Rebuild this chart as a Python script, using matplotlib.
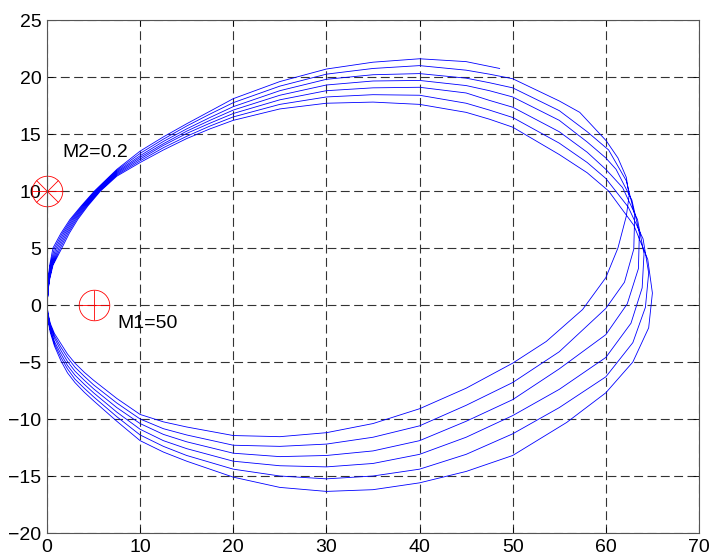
import matplotlib.pyplot as plt

# orbit, one list of (x, y) per arc
# upper arcs run left -> right, lower arcs run right -> left
top1 = [(0.02, 0.0), (0.10, 1.2), (0.30, 2.3), (0.65, 3.5), (1.60, 5.0), (2.40, 6.3), (3.30, 7.5),
        (4.40, 8.7), (5.75, 10.0), (7.5, 11.30), (10, 12.50), (12.5, 13.60), (15, 14.60), (17.5, 15.45),
        (20, 16.20), (25, 17.20), (30, 17.70), (35, 17.80), (40, 17.60), (45, 16.90), (47.5, 16.30),
        (50, 15.60), (55, 13.20), (58, 11.60), (60.3, 10.0), (63.0, 7.0), (64.5, 4.0), (65.0, 1.05)]
top2 = [(0.02, 0.0), (0.10, 1.2), (0.27, 2.3), (0.59, 3.5), (1.44, 5.0), (2.25, 6.3), (3.16, 7.5),
        (4.28, 8.7), (5.64, 10.0), (7.5, 11.40), (10, 12.65), (12.5, 13.80), (15, 14.80), (17.5, 15.70),
        (20, 16.50), (25, 17.60), (30, 18.25), (35, 18.45), (40, 18.40), (45, 17.70), (47.5, 17.10),
        (50, 16.45), (55, 14.20), (58, 12.50), (60.0, 11.1), (62.4, 8.6), (64.0, 5.8), (64.6, 2.8)]
top3 = [(0.02, 0.0), (0.10, 1.2), (0.24, 2.3), (0.53, 3.5), (1.28, 5.0), (2.10, 6.3), (3.02, 7.5),
        (4.16, 8.7), (5.53, 10.0), (7.5, 11.50), (10, 12.80), (12.5, 14.00), (15, 15.05), (17.5, 15.95),
        (20, 16.80), (25, 18.00), (30, 18.80), (35, 19.05), (40, 19.10), (45, 18.60), (47.5, 17.95),
        (50, 17.35), (55, 15.20), (58, 13.40), (60.0, 11.9), (61.8, 10.3), (63.4, 7.5), (64.1, 4.5)]
top4 = [(0.02, 0.0), (0.10, 1.2), (0.21, 2.3), (0.47, 3.5), (1.12, 5.0), (1.95, 6.3), (2.88, 7.5),
        (4.04, 8.7), (5.42, 10.0), (7.5, 11.60), (10, 12.95), (12.5, 14.15), (15, 15.25), (17.5, 16.20),
        (20, 17.10), (25, 18.40), (30, 19.30), (35, 19.65), (40, 19.70), (45, 19.25), (47.5, 18.80),
        (50, 18.25), (55, 16.20), (58, 14.30), (60.0, 12.9), (61.1, 11.9), (62.8, 9.2), (63.6, 6.3)]
top5 = [(0.02, 0.0), (0.10, 1.2), (0.18, 2.3), (0.41, 3.5), (0.96, 5.0), (1.80, 6.3), (2.74, 7.5),
        (3.92, 8.7), (5.31, 10.0), (7.5, 11.70), (10, 13.10), (12.5, 14.35), (15, 15.45), (17.5, 16.45),
        (20, 17.40), (25, 18.80), (30, 19.80), (35, 20.20), (40, 20.30), (45, 19.90), (47.5, 19.50),
        (50, 19.05), (55, 17.05), (58, 15.20), (60.3, 13.6), (62.2, 10.9), (63.1, 7.9)]
top6 = [(0.02, 0.0), (0.10, 1.2), (0.15, 2.3), (0.35, 3.5), (0.80, 5.0), (1.65, 6.3), (2.60, 7.5),
        (3.80, 8.7), (5.20, 10.0), (7.5, 11.80), (10, 13.30), (12.5, 14.55), (15, 15.70), (17.5, 16.75),
        (20, 17.75), (25, 19.20), (30, 20.25), (35, 20.75), (40, 21.00), (45, 20.60), (47.5, 20.25),
        (50, 19.85), (55, 17.90), (57.2, 16.9), (60.05, 14.4), (61.3, 12.9), (62.2, 11.2), (62.5, 9.6)]
top7 = [(0.02, 0.0), (0.10, 1.2), (0.12, 2.3), (0.29, 3.5), (0.64, 5.0), (1.50, 6.3), (2.46, 7.5),
        (3.68, 8.7), (5.09, 10.0), (7.5, 11.90), (10, 13.50), (12.5, 14.75), (15, 15.90), (17.5, 17.00),
        (20, 18.10), (25, 19.60), (30, 20.70), (35, 21.30), (40, 21.60), (45, 21.35), (48.6, 20.75)]

bot1 = [(65.0, 1.05), (64.6, -2.0), (62.9, -5.0), (60.0, -7.7), (55.8, -10.3), (50, -13.2), (45, -14.6),
        (40, -15.6), (35, -16.2), (30, -16.35), (25, -16.0), (20, -15.1), (15, -13.7), (12.5, -12.9),
        (10, -11.9), (7.5, -10.2), (5, -8.4), (4, -7.65), (3, -6.8), (2.2, -5.95), (1.5, -4.9),
        (0.8, -3.6), (0.35, -2.4), (0.10, -1.3)]
bot2 = [(64.6, 2.8), (64.25, -0.2), (62.9, -3.3), (60.0, -6.3), (55, -9.0), (50, -11.3), (45, -13.1),
        (40, -14.4), (35, -15.0), (30, -15.25), (25, -15.0), (20, -14.4), (15, -13.2), (12.5, -12.4),
        (10, -11.4), (7.5, -9.8), (5, -8.05), (4, -7.3), (3, -6.5), (2.2, -5.6), (1.5, -4.6),
        (0.8, -3.4), (0.35, -2.2), (0.10, -1.2)]
bot3 = [(64.1, 4.5), (63.9, 1.5), (62.7, -1.6), (60.0, -4.6), (55, -7.4), (50, -9.7), (45, -11.6),
        (40, -13.1), (35, -13.9), (30, -14.2), (25, -14.1), (20, -13.7), (15, -12.6), (12.5, -11.9),
        (10, -10.9), (7.5, -9.4), (5, -7.7), (4, -6.95), (3, -6.15), (2.2, -5.3), (1.5, -4.3),
        (0.8, -3.2), (0.35, -2.1), (0.10, -1.1)]
bot4 = [(63.6, 6.3), (63.5, 3.2), (62.3, 0.1), (60.0, -2.6), (55, -5.6), (50, -8.3), (45, -10.2),
        (40, -11.9), (35, -12.8), (30, -13.2), (25, -13.3), (20, -13.0), (15, -12.0), (12.5, -11.35),
        (10, -10.4), (7.5, -9.0), (5, -7.35), (4, -6.6), (3, -5.8), (2.2, -4.95), (1.5, -4.0),
        (0.8, -2.9), (0.35, -1.9), (0.10, -0.95)]
bot5 = [(63.1, 7.9), (63.0, 4.9), (62.0, 2.0), (60.0, -0.3), (55, -4.1), (50, -6.8), (45, -8.8),
        (40, -10.6), (35, -11.6), (30, -12.2), (25, -12.4), (20, -12.3), (15, -11.4), (12.5, -10.85),
        (10, -10.0), (7.5, -8.6), (5, -7.0), (4, -6.25), (3, -5.45), (2.2, -4.6), (1.5, -3.7),
        (0.8, -2.7), (0.35, -1.75), (0.10, -0.8)]
bot6 = [(62.5, 9.6), (62.2, 7.8), (61.3, 5.0), (60.0, 2.4), (57.5, -0.4), (53.6, -3.2), (50, -5.1),
        (45, -7.3), (40, -9.1), (35, -10.4), (30, -11.2), (25, -11.55), (20, -11.45), (15, -10.7),
        (12.5, -10.25), (10, -9.6), (7.5, -8.2), (5, -6.6), (4, -5.9), (3, -5.1), (2.2, -4.3),
        (1.5, -3.4), (0.8, -2.5), (0.35, -1.6), (0.10, -0.7)]

m1_pos = (5, 0)
m2_pos = (0, 10)
m1_label = "M1=50"
m2_label = "M2=0.2"

xticks = list(range(0, 71, 10))
yticks = list(range(-20, 26, 5))

# stitch arcs into one trajectory
arcs = [top1, bot1, top2, bot2, top3, bot3, top4, bot4, top5, bot5, top6, bot6, top7]
xs, ys = [], []
for arc in arcs:
    for x, y in arc:
        xs.append(x)
        ys.append(y)

plt.rcParams['font.family'] = ['Liberation Sans', 'DejaVu Sans']
fig = plt.figure(figsize=(7.12, 5.59), dpi=100)
ax = fig.add_axes([0.066, 0.0465, 0.9157, 0.9177])

ax.plot(xs, ys, color='#0000ff', linewidth=0.6)

# M1: circle with plus, M2: circle with asterisk
ax.plot(*m1_pos, 'o', ms=22, mfc='none', mec='red', mew=0.6, clip_on=False)
ax.plot(*m1_pos, '+', ms=22, mec='red', mew=0.6, clip_on=False)
ax.plot(*m2_pos, 'o', ms=22, mfc='none', mec='red', mew=0.6, clip_on=False)
ax.plot(*m2_pos, '+', ms=22, mec='red', mew=0.6, clip_on=False)
ax.plot(*m2_pos, 'x', ms=15.5, mec='red', mew=0.6, clip_on=False)

ax.text(7.6, -1.6, m1_label, fontsize=14, va='center', ha='left')
ax.text(1.6, 13.4, m2_label, fontsize=14, va='center', ha='left')

ax.set_xlim(0, 70)
ax.set_ylim(-20, 25)
ax.set_xticks(xticks)
ax.set_yticks(yticks)
ax.tick_params(direction='in', length=4, width=0.6, labelsize=14, top=True, right=True, pad=4)
ax.grid(True, color='#333333', linewidth=0.8, linestyle=(0, (8, 4)))
for sp in ax.spines.values():
    sp.set_color('#555555')
    sp.set_linewidth(0.8)

fig.savefig("out.png", dpi=100)
